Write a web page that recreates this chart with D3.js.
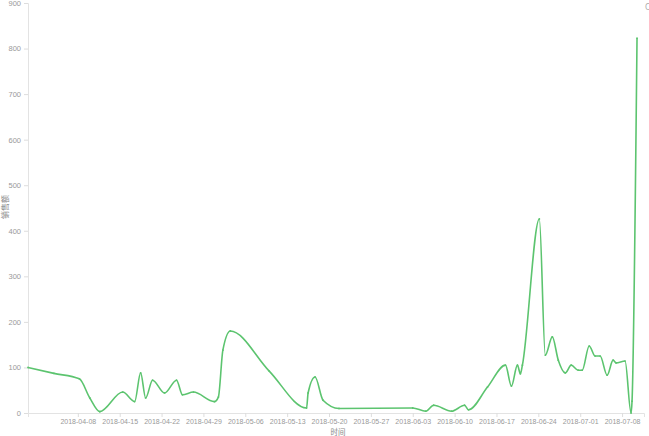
<!DOCTYPE html>
<html><head><meta charset="utf-8">
<script src="https://d3js.org/d3.v7.min.js"></script>
<style>body{margin:0;background:#fff;}svg{display:block;font-family:"Noto Sans","Noto Sans CJK SC",sans-serif;}</style>
</head><body><svg id="c" width="649" height="436"></svg>
<script>
const dates = ["2018-03-30 16:00","2018-04-04 00:00","2018-04-08 06:00","2018-04-10 00:00","2018-04-11 16:00","2018-04-15 12:00","2018-04-17 12:00","2018-04-18 12:00","2018-04-19 08:00","2018-04-20 12:00","2018-04-22 12:00","2018-04-24 12:00","2018-04-25 12:00","2018-04-27 08:00","2018-04-30 20:00","2018-05-01 12:00","2018-05-02 06:00","2018-05-03 12:00","2018-05-10 00:00","2018-05-16 06:00","2018-05-16 12:00","2018-05-17 16:00","2018-05-19 00:00","2018-05-21 16:00","2018-06-03 00:00","2018-06-05 04:00","2018-06-06 12:00","2018-06-09 12:00","2018-06-11 16:00","2018-06-12 08:00","2018-06-15 12:00","2018-06-18 12:00","2018-06-19 12:00","2018-06-20 12:00","2018-06-21 00:00","2018-06-21 08:00","2018-06-24 04:00","2018-06-25 04:00","2018-06-26 08:00","2018-06-27 08:00","2018-06-28 12:00","2018-06-29 12:00","2018-06-30 16:00","2018-07-01 08:00","2018-07-02 12:00","2018-07-03 12:00","2018-07-04 08:00","2018-07-05 12:00","2018-07-06 12:00","2018-07-07 00:00","2018-07-08 12:00","2018-07-09 12:00","2018-07-09 16:00","2018-07-10 12:00"];
const values = [100,87,75,33,3,46,25,88,33,72,44,72,40,46,25,35,138,180,92,11,44,79,28,10,11,4,17,4,17,7,57,105,59,105,86,105,426,127,167,116,88,105,94,94,147,125,125,83,116,110,114,0,26,823];
const yTicks = [0,100,200,300,400,500,600,700,800,900];
const yTitle = "销售额";
const xTitle = "时间";

const parse = d3.timeParse("%Y-%m-%d %H:%M");
const data = dates.map((d,i)=>({t:parse(d), v:values[i]}));
const svg = d3.select("#c");
const x = d3.scaleTime().domain([parse("2018-03-30 16:00"), parse("2018-07-11 16:00")]).range([28,644]);
const y = d3.scaleLinear().domain([0,900]).range([413,3]);

const grey = "#999";
const ya = svg.append("g").attr("transform","translate(28,0)")
  .call(d3.axisLeft(y).tickValues(yTicks).tickSize(4).tickPadding(3));
ya.select(".domain").attr("stroke","#e3e3e3");
ya.selectAll(".tick line").attr("stroke","#ddd");
ya.selectAll(".tick text").attr("fill",grey).attr("font-size",7.5);

const xa = svg.append("g").attr("transform","translate(0,413)")
  .call(d3.axisBottom(x).ticks(d3.timeSunday.every(1)).tickFormat(d3.timeFormat("%Y-%m-%d")).tickSize(4).tickPadding(2));
xa.select(".domain").attr("stroke","#e3e3e3");
xa.selectAll(".tick line").attr("stroke","#ddd");
xa.selectAll(".tick text").attr("fill",grey).attr("font-size",7);
xa.selectAll(".tick").filter(d=>d < parse("2018-04-05 00:00")).remove();

svg.append("text").attr("x",338).attr("y",434.5).attr("text-anchor","middle")
  .attr("fill","#888").attr("font-size",7.5).text(xTitle);
svg.append("text").attr("transform","translate(8,207) rotate(-90)").attr("text-anchor","middle")
  .attr("fill","#888").attr("font-size",8).text(yTitle);
svg.append("text").attr("x",645).attr("y",10).attr("fill","#aaa").attr("font-size",8).text("C");

const line = d3.line().x(d=>x(d.t)).y(d=>y(d.v)).curve(d3.curveMonotoneX);
svg.append("path").datum(data).attr("d",line).attr("fill","none")
  .attr("stroke","#5cc46f").attr("stroke-width",1.6);
svg.append("g").selectAll("circle").data(data).join("circle")
  .attr("cx",d=>x(d.t)).attr("cy",d=>y(d.v)).attr("r",0.9).attr("fill","#5cc46f");
</script></body></html>
